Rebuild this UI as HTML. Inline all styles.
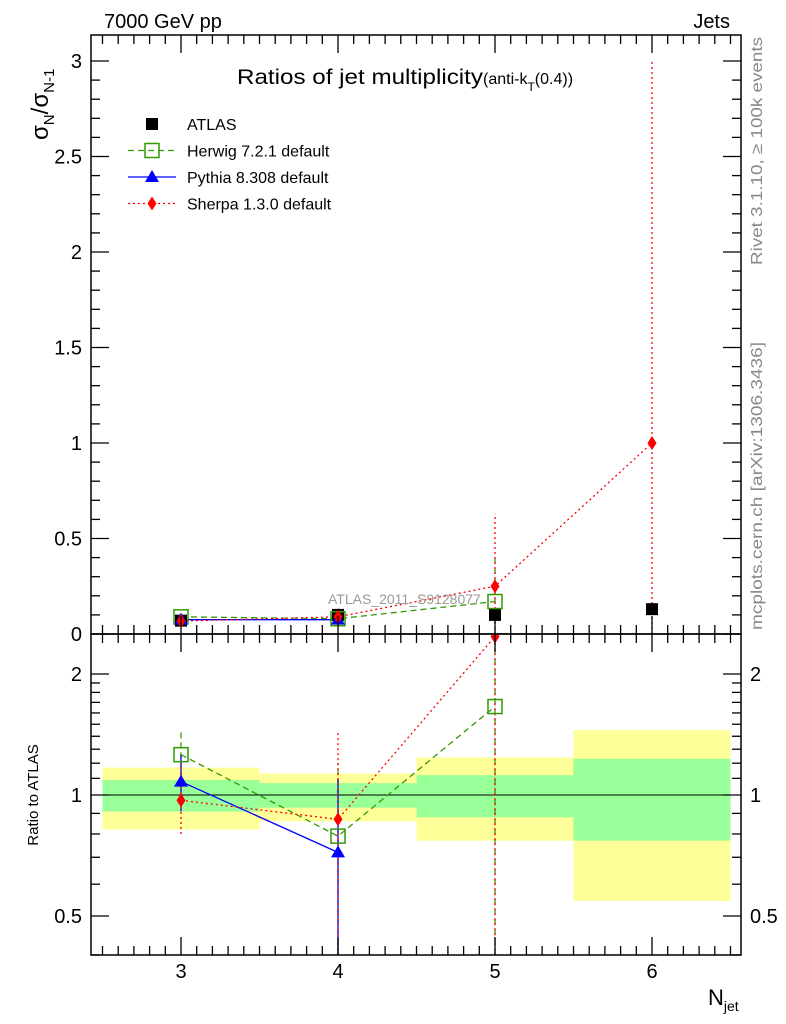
<!DOCTYPE html>
<html><head><meta charset="utf-8"><style>
html,body{margin:0;padding:0;background:#fff}
svg{display:block;font-family:"Liberation Sans",sans-serif}
</style></head><body>
<svg id="c" width="786" height="1024" viewBox="0 0 786 1024"></svg>
<script>
const categories=[3,4,5,6];
const atlas=[0.07,0.10,0.10,0.13];
const herwig=[0.09,0.08,0.17];
const pythia=[0.075,0.075];
const sherpa=[0.068,0.09,0.25,1.0];
const herwigErrTop=[[0.07,0.11],[0.06,0.1],[0,0.4]];
const sherpaErrTop=[[0.06,0.08],[0.07,0.14],[0,0.63],[0,3.0]];
const herwigRatio=[1.26,0.79,1.66];
const pythiaRatio=[1.08,0.72];
const sherpaRatio=[0.97,0.87,2.48];
const herwigRatioErr=[[1.1,1.45],[0.3,1.2],[0.3,2.6]];
const pythiaRatioErr=[[0.91,1.26],[0.3,1.1]];
const sherpaRatioErr=[[0.8,1.2],[0.3,1.43],[0.3,2.6]];
const bandYellow=[[0.82,1.17],[0.86,1.13],[0.77,1.24],[0.545,1.45]];
const bandGreen=[[0.91,1.09],[0.93,1.07],[0.88,1.12],[0.77,1.23]];
const yTicksTop=[0,0.5,1,1.5,2,2.5,3];
const yTicksTopLabels=["0","0.5","1","1.5","2","2.5","3"];
const rTicks=[0.5,1,2];
const rTickLabels=["0.5","1","2"];

const NS="http://www.w3.org/2000/svg";
const svg=document.getElementById('c');
const L=91,R=741,T=35,M=634,B=955;
const X=v=>181+(v-3)*157;
const Y=v=>634-v*191;
const RY=v=>795-Math.log2(v)*121;
function el(tag,a,name,parent){const e=document.createElementNS(NS,tag);for(const k in a)e.setAttribute(k,a[k]);


(parent||svg).appendChild(e);return e;}
function txt(s,x,y,a,name){const e=el('text',Object.assign({x:x,y:y,'font-size':20,fill:'#000'},a),name);e.textContent=s;return e;}
function clipRect(id,y1,y2){const d=el('clipPath',{id:id},'clip');el('rect',{x:L,y:y1,width:R-L,height:y2-y1},'clip-rect',d);}
clipRect('ct',T,M);clipRect('cb',M,B);
const gt=el('g',{'clip-path':'url(#ct)'},'top-plot-area');
const gb=el('g',{'clip-path':'url(#cb)'},'ratio-plot-area');

categories.forEach((c,i)=>{
 el('rect',{x:X(c-0.5),y:RY(bandYellow[i][1]),width:157,height:RY(bandYellow[i][0])-RY(bandYellow[i][1]),fill:'#ffff99'},'band-yellow-'+c,gb);
 el('rect',{x:X(c-0.5),y:RY(bandGreen[i][1]),width:157,height:RY(bandGreen[i][0])-RY(bandGreen[i][1]),fill:'#99ff99'},'band-green-'+c,gb);
});
el('line',{x1:L,x2:R,y1:RY(1),y2:RY(1),stroke:'#000','stroke-width':1},'ratio-unity-line',gb);

const styles={h:{c:'#339900',d:'6,4'},p:{c:'#0000ff',d:''},s:{c:'#ff0000',d:'2,3'}};
function series(g,vals,fy,st,name){
 el('polyline',{points:vals.map((v,i)=>X(categories[i])+','+fy(v)).join(' '),fill:'none',stroke:st.c,'stroke-width':1.3,'stroke-dasharray':st.d},name+'-line',g);
}
function errs(g,errsArr,fy,st,name){
 errsArr.forEach((e,i)=>{const x=X(categories[i]);
  el('line',{x1:x,x2:x,y1:fy(e[0]),y2:fy(e[1]),stroke:st.c,'stroke-width':1.3,'stroke-dasharray':st.d},name+'-err-'+categories[i],g);});
}
function marker(g,type,x,y,name){
 if(type==='h')el('rect',{x:x-7,y:y-7,width:14,height:14,fill:'none',stroke:'#339900','stroke-width':1.5},name,g);
 else if(type==='p')el('polygon',{points:`${x},${y-7} ${x-7},${y+5} ${x+7},${y+5}`,fill:'#0000ff'},name,g);
 else if(type==='s')el('polygon',{points:`${x},${y-7} ${x-4.5},${y} ${x},${y+7} ${x+4.5},${y}`,fill:'#ff0000'},name,g);
 else el('rect',{x:x-6,y:y-6,width:12,height:12,fill:'#000'},name,g);
}
errs(gt,herwigErrTop,Y,styles.h,'herwig');
errs(gt,sherpaErrTop,Y,styles.s,'sherpa');
series(gt,herwig,Y,styles.h,'herwig');
series(gt,pythia,Y,styles.p,'pythia');
series(gt,sherpa,Y,styles.s,'sherpa');
atlas.forEach((v,i)=>marker(gt,'a',X(categories[i]),Y(v),'atlas-point-'+categories[i]));
herwig.forEach((v,i)=>marker(gt,'h',X(categories[i]),Y(v),'herwig-point-'+categories[i]));
pythia.forEach((v,i)=>marker(gt,'p',X(categories[i]),Y(v),'pythia-point-'+categories[i]));
sherpa.forEach((v,i)=>marker(gt,'s',X(categories[i]),Y(v),'sherpa-point-'+categories[i]));
errs(gb,herwigRatioErr,RY,styles.h,'herwig-ratio');
errs(gb,pythiaRatioErr,RY,styles.p,'pythia-ratio');
errs(gb,sherpaRatioErr,RY,styles.s,'sherpa-ratio');
series(gb,herwigRatio,RY,styles.h,'herwig-ratio');
series(gb,pythiaRatio,RY,styles.p,'pythia-ratio');
series(gb,sherpaRatio,RY,styles.s,'sherpa-ratio');
herwigRatio.forEach((v,i)=>marker(gb,'h',X(categories[i]),RY(v),'herwig-ratio-point-'+categories[i]));
pythiaRatio.forEach((v,i)=>marker(gb,'p',X(categories[i]),RY(v),'pythia-ratio-point-'+categories[i]));
sherpaRatio.forEach((v,i)=>marker(gb,'s',X(categories[i]),RY(v),'sherpa-ratio-point-'+categories[i]));

el('rect',{x:L,y:T,width:R-L,height:M-T,fill:'none',stroke:'#000','stroke-width':1.5},'top-frame');
el('rect',{x:L,y:M,width:R-L,height:B-M,fill:'none',stroke:'#000','stroke-width':1.5},'ratio-frame');
for(let v=2.5;v<=6.55;v+=0.1){const x=X(v);const maj=Math.abs(v-Math.round(v))<0.01&&Math.round(v)>=3;const len=maj?18:9;
 [M,B].forEach(y=>el('line',{x1:x,x2:x,y1:y,y2:y-len,stroke:'#000','stroke-width':1.3},'x-tick',svg));
 el('line',{x1:x,x2:x,y1:T,y2:T+len,stroke:'#000','stroke-width':1.3},'x-tick-top',svg);
 el('line',{x1:x,x2:x,y1:M,y2:M+len,stroke:'#000','stroke-width':1.3},'x-tick-ratio-top',svg);}
categories.forEach(c=>txt(String(c),X(c),978,{'text-anchor':'middle','font-size':20},'x-tick-label-'+c));
for(let v=0;v<=3.1;v+=0.1){const y=Y(v);const maj=Math.abs(v*2-Math.round(v*2))<0.01;const len=maj?18:9;
 el('line',{x1:L,x2:L+len,y1:y,y2:y,stroke:'#000','stroke-width':1.3},'y-tick',svg);
 el('line',{x1:R,x2:R-len,y1:y,y2:y,stroke:'#000','stroke-width':1.3},'y-tick-right',svg);}
yTicksTop.forEach((v,i)=>txt(yTicksTopLabels[i],82,Y(v)+7,{'text-anchor':'end'},'y-tick-label'));
for(let v=0.4;v<=2.5;v+=(v<1.95?0.1:0.5)){const y=RY(v);if(y<M||y>B)continue;const maj=rTicks.some(t=>Math.abs(t-v)<0.01);const len=maj?18:9;
 el('line',{x1:L,x2:L+len,y1:y,y2:y,stroke:'#000','stroke-width':1.3},'ratio-y-tick',svg);
 el('line',{x1:R,x2:R-len,y1:y,y2:y,stroke:'#000','stroke-width':1.3},'ratio-y-tick-right',svg);}
rTicks.forEach((v,i)=>{txt(rTickLabels[i],82,RY(v)+7,{'text-anchor':'end'},'ratio-tick-label');
 txt(rTickLabels[i],750,RY(v)+7,{},'ratio-tick-label-right');});

txt('7000 GeV pp',104,28,{},'energy-label');
txt('Jets',730,28,{'text-anchor':'end'},'process-label');
const ti=el('text',{x:237,y:84,'font-size':21},'plot-title');
ti.innerHTML='<tspan textLength="246" lengthAdjust="spacingAndGlyphs">Ratios of jet multiplicity</tspan><tspan font-size="16">(anti-k</tspan><tspan font-size="12" dy="7">T</tspan><tspan font-size="16" dy="-7">(0.4))</tspan>';
const yl=el('text',{transform:'translate(48,140) rotate(-90)','font-size':24},'y-axis-title');
yl.innerHTML='σ<tspan font-size="15" dy="6">N</tspan><tspan dy="-6">/σ</tspan><tspan font-size="15" dy="6">N-1</tspan>';
txt('Ratio to ATLAS',38,795,{transform:'rotate(-90 38 795)','text-anchor':'middle','font-size':15},'ratio-axis-title');
const xl=el('text',{x:708,y:1005,'font-size':22},'x-axis-title');xl.innerHTML='N<tspan font-size="14" dy="6">jet</tspan>';
txt('ATLAS_2011_S9128077',328,604,{fill:'#999','font-size':14},'analysis-id');
txt('Rivet 3.1.10, ≥ 100k events',762,265,{transform:'rotate(-90 762 265)',fill:'#888','font-size':16,textLength:228,lengthAdjust:'spacingAndGlyphs'},'rivet-label');
txt('mcplots.cern.ch [arXiv:1306.3436]',762,630,{transform:'rotate(-90 762 630)',fill:'#888','font-size':16,textLength:288,lengthAdjust:'spacingAndGlyphs'},'mcplots-label');
const lg=[['a','ATLAS',null],['h','Herwig 7.2.1 default',styles.h],['p','Pythia 8.308 default',styles.p],['s','Sherpa 1.3.0 default',styles.s]];
lg.forEach((e,i)=>{const y=124+i*26.5;
 if(e[2])el('line',{x1:128,x2:176,y1:y,y2:y,stroke:e[2].c,'stroke-width':1.3,'stroke-dasharray':e[2].d},'legend-line-'+e[0]);
 marker(svg,e[0],152,y,'legend-marker-'+e[0]);
 txt(e[1],187,y+6,{'font-size':16},'legend-entry-'+e[0]);});
</script>
</body></html>
